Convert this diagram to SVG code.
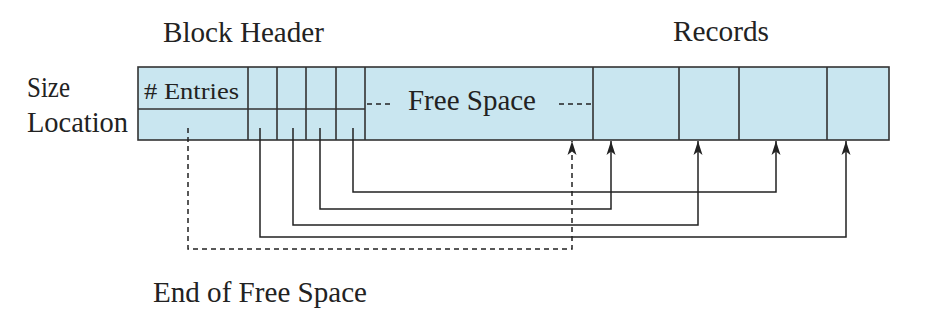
<svg xmlns="http://www.w3.org/2000/svg" width="930" height="312" viewBox="0 0 930 312">
<style>
.t{font-family:"Liberation Serif","Times New Roman",serif;fill:#222;}
.cell{fill:#c9e6f0;stroke:#333;stroke-width:1.6;}
.div{stroke:#333;stroke-width:1.6;fill:none;}
.ln{stroke:#222;stroke-width:1.5;fill:none;}
.dash{stroke:#222;stroke-width:1.5;fill:none;stroke-dasharray:5,4;}
</style>
<defs>
<marker id="ah" viewBox="0 0 15 10" refX="15" refY="5" markerWidth="15" markerHeight="10" markerUnits="userSpaceOnUse" orient="auto">
<path d="M15,5 L1,0.5 L4.5,5 L1,9.5 Z" fill="#222"/>
</marker>
</defs>
<rect width="930" height="312" fill="#fff"/>
<g id="labels">
<text class="t" x="163" y="42" font-size="28.5" textLength="161" lengthAdjust="spacingAndGlyphs">Block Header</text>
<text class="t" x="673" y="41" font-size="28.5" textLength="96" lengthAdjust="spacingAndGlyphs">Records</text>
<text class="t" x="27" y="97" font-size="28.5" textLength="43" lengthAdjust="spacingAndGlyphs">Size</text>
<text class="t" x="27" y="132" font-size="28.5" textLength="101" lengthAdjust="spacingAndGlyphs">Location</text>
<text class="t" x="153" y="302" font-size="28.5" textLength="214" lengthAdjust="spacingAndGlyphs">End of Free Space</text>
</g>
<g id="block">
<rect class="cell" x="138" y="67" width="751" height="73"/>
<path class="div" d="M138,109 H365 M248,67 V140 M277,67 V140 M306,67 V140 M336,67 V140 M365,67 V140 M593,67 V140 M679,67 V140 M739,67 V140 M827,67 V140"/>
<text class="t" x="144" y="99" font-size="23" textLength="95" lengthAdjust="spacingAndGlyphs"># Entries</text>
<text class="t" x="408" y="110" font-size="28.5" textLength="128" lengthAdjust="spacingAndGlyphs">Free Space</text>
<path class="dash" d="M367,104 H392 M559,104 H593" stroke-dasharray="4,4"/>
</g>
<g id="connectors">
<path class="ln" d="M353,128 V192 H776 V141" marker-end="url(#ah)"/>
<path class="ln" d="M320,128 V209 H611 V141" marker-end="url(#ah)"/>
<path class="ln" d="M293,128 V225 H698 V141" marker-end="url(#ah)"/>
<path class="ln" d="M260,128 V237 H846 V141" marker-end="url(#ah)"/>
<path class="dash" d="M188,128 V249 H572 V141" marker-end="url(#ah)"/>
</g>
</svg>
